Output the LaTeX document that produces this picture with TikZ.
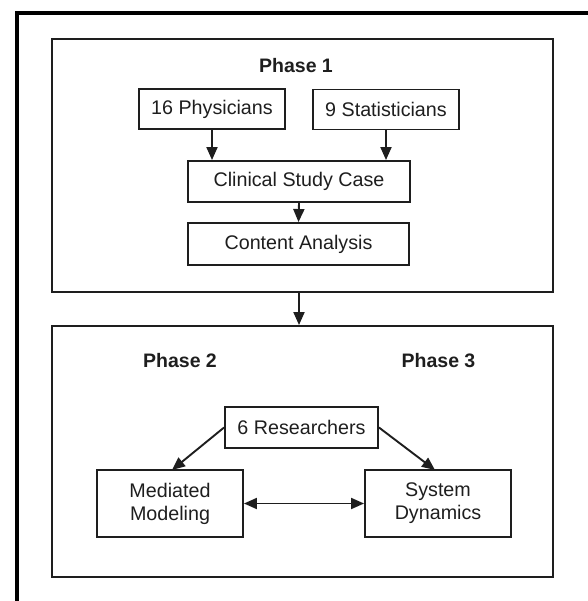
\documentclass[tikz,border=0pt]{standalone}
\usepackage{fontspec}
\setmainfont{Liberation Sans}
\usetikzlibrary{arrows.meta}
\definecolor{ink}{HTML}{1E1E1E}
\begin{document}
\begin{tikzpicture}[x=1pt,y=-1pt,
  box/.style={draw=ink,line width=1.9pt,text=ink,font=\fontsize{19.7}{23}\selectfont,inner sep=0pt,align=center},
  frame/.style={draw=ink,line width=1.9pt},
  lbl/.style={text=ink,font=\fontsize{19.5}{23}\selectfont\bfseries,anchor=base,inner sep=0pt},
  arr/.style={draw=ink,line width=1.9pt,-{Triangle[length=13pt,width=11pt]}},
  darr/.style={draw=ink,line width=1.9pt,{Triangle[length=13pt,width=11pt]}-{Triangle[length=13pt,width=11pt]}}]
\useasboundingbox (0,0) rectangle (587,601);
\draw[line width=4pt,black] (17,603) -- (17,13) -- (590,13);
% Phase boxes
\node[frame,minimum width=501pt,minimum height=253pt,inner sep=0pt] (p1) at (302.5,165.5) {};
\node[frame,minimum width=501pt,minimum height=251pt,inner sep=0pt] (p2) at (302.5,451.5) {};
\node[lbl] (l1) at (296,73) {Phase 1};
\node[lbl] (l2) at (180,367) {Phase 2};
\node[lbl] (l3) at (438.5,367) {Phase 3};
% Phase 1 nodes
\node[box,minimum width=146pt,minimum height=40pt] (ph) at (212,109) {16 Physicians};
\node[box,minimum width=146pt,minimum height=40pt] (st) at (386,109.5) {9 Statisticians};
\node[box,minimum width=222pt,minimum height=41pt] (csc) at (299,181.5) {Clinical Study Case};
\node[box,minimum width=221pt,minimum height=42pt] (ca) at (298.5,244) {Content Analysis};
\draw[arr] (ph.south) -- (ph.south |- csc.north);
\draw[arr] (st.south) -- (st.south |- csc.north);
\draw[arr] (csc.south) -- (ca.north);
\draw[arr] (p1.south -| 299,0) -- (p2.north -| 299,0);
% Phase 2/3 nodes
\node[box,minimum width=153pt,minimum height=41pt] (res) at (301.5,427.5) {6 Researchers};
\node[box,minimum width=146pt,minimum height=67pt] (mm) at (170,503.5) {Mediated\\Modeling};
\node[box,minimum width=146pt,minimum height=67pt] (sd) at (438,503.5) {System\\Dynamics};
\coordinate (mmt) at (172,470);
\coordinate (sdt) at (435,470);
\draw[arr] (res.west) -- (mmt);
\draw[arr] (res.east) -- (sdt);
\draw[darr] (mm.east) -- (sd.west);
\end{tikzpicture}
\end{document}
